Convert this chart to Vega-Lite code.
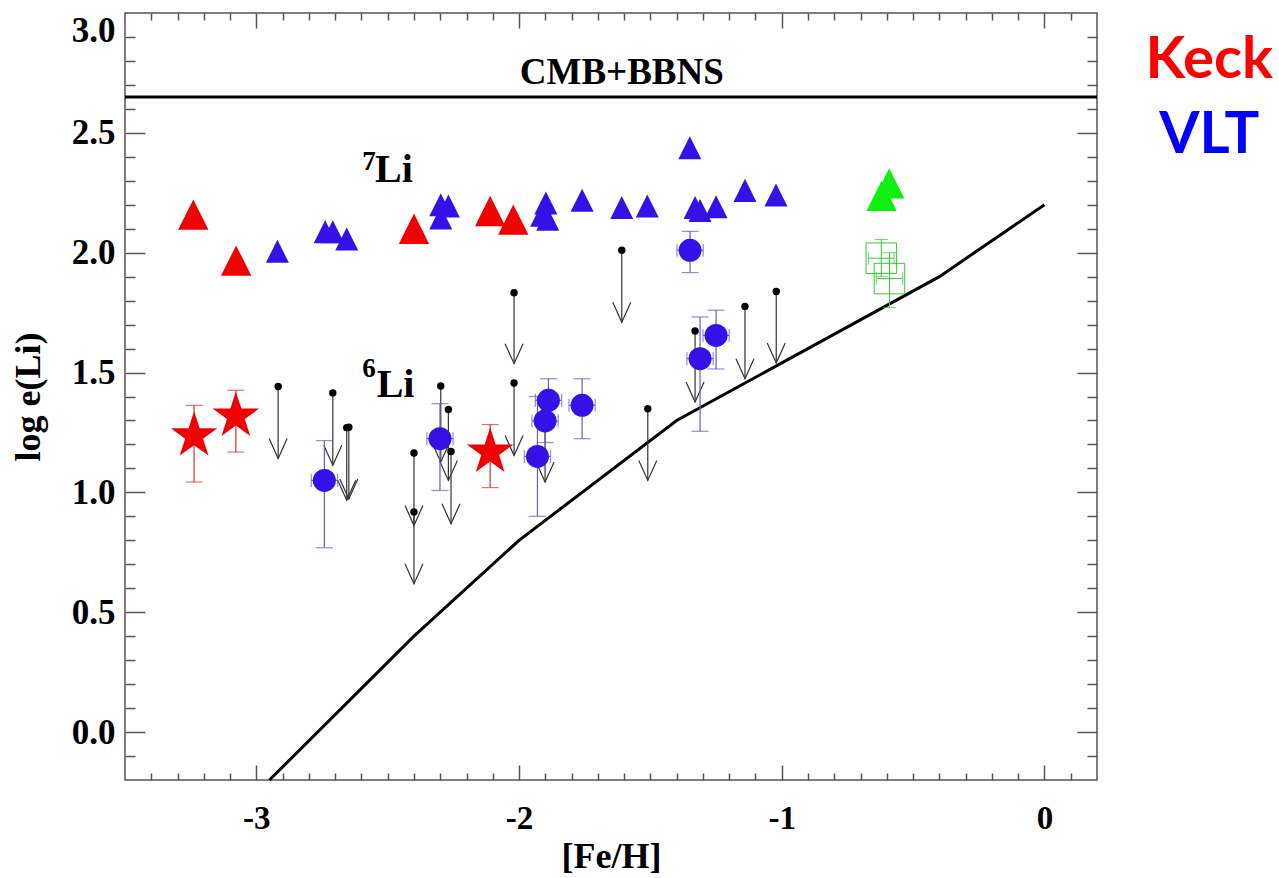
{
  "$schema": "https://vega.github.io/schema/vega-lite/v6.json",
  "width": 972,
  "height": 767,
  "autosize": "none",
  "padding": {"left": 125, "top": 13, "right": 182, "bottom": 98},
  "background": "white",
  "config": {
    "view": {"stroke": "#555555", "strokeWidth": 1.5},
    "axis": {
      "labelFont": "Liberation Serif",
      "labelFontWeight": "bold",
      "labelColor": "black",
      "titleFont": "Liberation Serif",
      "titleFontWeight": "bold",
      "titleColor": "black",
      "grid": false,
      "domain": false
    }
  },
  "datasets": {
    "theory": [
      {"x": -2.95, "y": -0.2},
      {"x": -2.4, "y": 0.4},
      {"x": -2.0, "y": 0.8},
      {"x": -1.4, "y": 1.3},
      {"x": -0.4, "y": 1.9},
      {"x": 0.0, "y": 2.2}
    ],
    "cmb": [{"y": 2.65}],
    "li7": [
      {"x": -3.24, "y": 2.159, "tel": "Keck"},
      {"x": -3.077, "y": 1.967, "tel": "Keck"},
      {"x": -2.40, "y": 2.100, "tel": "Keck"},
      {"x": -2.110, "y": 2.174, "tel": "Keck"},
      {"x": -2.022, "y": 2.138, "tel": "Keck"},
      {"x": -2.92, "y": 2.006, "tel": "VLT"},
      {"x": -2.738, "y": 2.087, "tel": "VLT"},
      {"x": -2.709, "y": 2.087, "tel": "VLT"},
      {"x": -2.656, "y": 2.057, "tel": "VLT"},
      {"x": -2.298, "y": 2.200, "tel": "VLT"},
      {"x": -2.269, "y": 2.195, "tel": "VLT"},
      {"x": -2.298, "y": 2.145, "tel": "VLT"},
      {"x": -1.898, "y": 2.207, "tel": "VLT"},
      {"x": -1.914, "y": 2.156, "tel": "VLT"},
      {"x": -1.891, "y": 2.140, "tel": "VLT"},
      {"x": -1.760, "y": 2.219, "tel": "VLT"},
      {"x": -1.609, "y": 2.189, "tel": "VLT"},
      {"x": -1.512, "y": 2.195, "tel": "VLT"},
      {"x": -1.350, "y": 2.438, "tel": "VLT"},
      {"x": -1.330, "y": 2.189, "tel": "VLT"},
      {"x": -1.311, "y": 2.176, "tel": "VLT"},
      {"x": -1.250, "y": 2.192, "tel": "VLT"},
      {"x": -1.140, "y": 2.260, "tel": "VLT"},
      {"x": -1.022, "y": 2.241, "tel": "VLT"},
      {"x": -0.620, "y": 2.237, "tel": "other"},
      {"x": -0.591, "y": 2.289, "tel": "other"}
    ],
    "stars": [
      {"x": -3.237, "y": 1.236, "lo": 1.043, "hi": 1.363},
      {"x": -3.078, "y": 1.318, "lo": 1.168, "hi": 1.426},
      {"x": -2.110, "y": 1.168, "lo": 1.020, "hi": 1.283}
    ],
    "circles": [
      {"x": -2.741, "y": 1.050, "lo": 0.769, "hi": 1.216, "xlo": -2.791, "xhi": -2.691},
      {"x": -2.301, "y": 1.224, "lo": 1.008, "hi": 1.370, "xlo": -2.351, "xhi": -2.251},
      {"x": -1.930, "y": 1.150, "lo": 0.900, "hi": 1.400, "xlo": -1.980, "xhi": -1.880},
      {"x": -1.901, "y": 1.298, "lo": 1.208, "hi": 1.388, "xlo": -1.951, "xhi": -1.851},
      {"x": -1.888, "y": 1.384, "lo": 1.294, "hi": 1.474, "xlo": -1.938, "xhi": -1.838},
      {"x": -1.760, "y": 1.363, "lo": 1.224, "hi": 1.474, "xlo": -1.810, "xhi": -1.710},
      {"x": -1.311, "y": 1.558, "lo": 1.255, "hi": 1.732, "xlo": -1.361, "xhi": -1.261},
      {"x": -1.250, "y": 1.655, "lo": 1.515, "hi": 1.760, "xlo": -1.300, "xhi": -1.200},
      {"x": -1.349, "y": 2.010, "lo": 1.917, "hi": 2.089, "xlo": -1.399, "xhi": -1.299}
    ],
    "squares": [
      {"x": -0.621, "y": 1.977, "lo": 1.900, "hi": 2.055, "xlo": -0.670, "xhi": -0.572},
      {"x": -0.590, "y": 1.892, "lo": 1.771, "hi": 2.000, "xlo": -0.640, "xhi": -0.540}
    ],
    "limits": [
      {"x": -2.917, "y": 1.442, "tip": 1.141},
      {"x": -2.709, "y": 1.415, "tip": 1.113},
      {"x": -2.656, "y": 1.270, "tip": 0.967},
      {"x": -2.648, "y": 1.272, "tip": 0.972},
      {"x": -2.400, "y": 1.164, "tip": 0.862},
      {"x": -2.400, "y": 0.918, "tip": 0.619},
      {"x": -2.298, "y": 1.444, "tip": 1.127},
      {"x": -2.269, "y": 1.346, "tip": 1.050},
      {"x": -2.259, "y": 1.171, "tip": 0.869},
      {"x": -2.019, "y": 1.833, "tip": 1.537},
      {"x": -2.019, "y": 1.456, "tip": 1.154},
      {"x": -1.901, "y": 1.343, "tip": 1.043},
      {"x": -1.609, "y": 2.010, "tip": 1.710},
      {"x": -1.510, "y": 1.349, "tip": 1.050},
      {"x": -1.330, "y": 1.673, "tip": 1.377},
      {"x": -1.140, "y": 1.776, "tip": 1.474},
      {"x": -1.021, "y": 1.838, "tip": 1.540}
    ],
    "bigLi": [
      {"x": -2.548, "y": 2.295, "t": "Li"},
      {"x": -2.542, "y": 1.396, "t": "Li"}
    ],
    "sup": [
      {"x": -2.597, "y": 2.344, "t": "7"},
      {"x": -2.597, "y": 1.481, "t": "6"}
    ],
    "cmbtext": [{"x": -1.609, "y": 2.702, "t": "CMB+BBNS"}],
    "tels": [
      {"x": 0.627, "y": 2.728, "t": "Keck"},
      {"x": 0.627, "y": 2.415, "t": "VLT"}
    ]
  },
  "resolve": {"axis": {"x": "independent", "y": "independent"}},
  "layer": [
    {
      "data": {"name": "theory"},
      "mark": {"type": "line", "color": "black", "strokeWidth": 3},
      "encoding": {
        "x": {"field": "x", "type": "quantitative", "scale": {"domain": [-3.5, 0.2], "nice": false, "zero": false},
          "axis": {"orient": "bottom", "values": [-3, -2, -1, 0], "ticks": false, "labels": true, "labelExpr": "'' + datum.value", "labelPadding": 22, "labelFontSize": 33, "labelFlush": false, "title": "[Fe/H]", "titleFontSize": 36, "titlePadding": 4}},
        "y": {"field": "y", "type": "quantitative", "scale": {"domain": [-0.2, 3.0], "nice": false, "zero": false},
          "axis": {"orient": "left", "values": [0, 0.5, 1, 1.5, 2, 2.5, 3], "ticks": false, "labels": true, "format": ".1f", "labelPadding": 10, "labelFontSize": 35, "labelFlush": true, "title": "log e(Li)", "titleFontSize": 36, "titlePadding": 24}}
      }
    },
    {
      "data": {"name": "cmb"},
      "mark": {"type": "rule", "color": "black", "strokeWidth": 3},
      "encoding": {
        "y": {"field": "y", "type": "quantitative", "scale": {"domain": [-0.2, 3.0], "nice": false, "zero": false}, "axis": null}
      }
    },
    {
      "data": {"name": "limits"},
      "mark": {"type": "rule", "color": "#333333", "strokeWidth": 1.2},
      "encoding": {
        "x": {"field": "x", "type": "quantitative", "scale": {"domain": [-3.5, 0.2], "nice": false, "zero": false},
          "axis": {"orient": "bottom", "values": [-3, -2, -1, 0], "tickSize": -15, "tickColor": "#555555", "tickWidth": 1.5, "labels": false, "title": null}},
        "y": {"field": "y", "type": "quantitative", "scale": {"domain": [-0.2, 3.0], "nice": false, "zero": false},
          "axis": {"orient": "left", "values": [0, 0.5, 1, 1.5, 2, 2.5], "tickSize": -20, "tickColor": "#555555", "tickWidth": 1.5, "labels": false, "title": null}},
        "y2": {"field": "tip"}
      }
    },
    {
      "data": {"name": "limits"},
      "mark": {"type": "point", "shape": "M-1.8,-4L0,0L1.8,-4", "size": 100, "filled": false, "stroke": "#333333", "strokeWidth": 1.2, "opacity": 1},
      "encoding": {
        "x": {"field": "x", "type": "quantitative", "scale": {"domain": [-3.5, 0.2], "nice": false, "zero": false},
          "axis": {"orient": "bottom", "values": [-3.4, -3.3, -3.2, -3.1, -2.9, -2.8, -2.7, -2.6, -2.5, -2.4, -2.3, -2.2, -2.1, -1.9, -1.8, -1.7, -1.6, -1.5, -1.4, -1.3, -1.2, -1.1, -0.9, -0.8, -0.7, -0.6, -0.5, -0.4, -0.3, -0.2, -0.1, 0.1], "tickSize": -7, "tickColor": "#555555", "tickWidth": 1.5, "labels": false, "title": null}},
        "y": {"field": "tip", "type": "quantitative", "scale": {"domain": [-0.2, 3.0], "nice": false, "zero": false},
          "axis": {"orient": "left", "values": [-0.1, 0.1, 0.2, 0.3, 0.4, 0.6, 0.7, 0.8, 0.9, 1.1, 1.2, 1.3, 1.4, 1.6, 1.7, 1.8, 1.9, 2.1, 2.2, 2.3, 2.4, 2.6, 2.7, 2.8, 2.9], "tickSize": -10, "tickColor": "#555555", "tickWidth": 1.5, "labels": false, "title": null}}
      }
    },
    {
      "data": {"name": "limits"},
      "mark": {"type": "point", "shape": "circle", "size": 55, "filled": true, "color": "black", "opacity": 1},
      "encoding": {
        "x": {"field": "x", "type": "quantitative", "scale": {"domain": [-3.5, 0.2], "nice": false, "zero": false},
          "axis": {"orient": "top", "values": [-3, -2, -1, 0], "tickSize": -15, "tickColor": "#555555", "tickWidth": 1.5, "labels": false, "title": null}},
        "y": {"field": "y", "type": "quantitative", "scale": {"domain": [-0.2, 3.0], "nice": false, "zero": false},
          "axis": {"orient": "right", "values": [0, 0.5, 1, 1.5, 2, 2.5], "tickSize": -20, "tickColor": "#555555", "tickWidth": 1.5, "labels": false, "title": null}}
      }
    },
    {
      "data": {"name": "stars"},
      "mark": {"type": "errorbar", "ticks": true, "size": 17, "thickness": 1.2, "color": "#e03030"},
      "encoding": {
        "x": {"field": "x", "type": "quantitative", "scale": {"domain": [-3.5, 0.2], "nice": false, "zero": false}, "axis": null},
        "y": {"field": "lo", "type": "quantitative", "scale": {"domain": [-0.2, 3.0], "nice": false, "zero": false}, "axis": null},
        "y2": {"field": "hi"}
      }
    },
    {
      "data": {"name": "circles"},
      "mark": {"type": "errorbar", "ticks": true, "size": 17, "thickness": 1.2, "color": "#6a5acd"},
      "encoding": {
        "x": {"field": "x", "type": "quantitative", "scale": {"domain": [-3.5, 0.2], "nice": false, "zero": false}, "axis": null},
        "y": {"field": "lo", "type": "quantitative", "scale": {"domain": [-0.2, 3.0], "nice": false, "zero": false}, "axis": null},
        "y2": {"field": "hi"}
      }
    },
    {
      "data": {"name": "circles"},
      "mark": {"type": "errorbar", "ticks": true, "size": 13, "thickness": 1.2, "color": "#6a5acd"},
      "encoding": {
        "y": {"field": "y", "type": "quantitative", "scale": {"domain": [-0.2, 3.0], "nice": false, "zero": false}, "axis": null},
        "x": {"field": "xlo", "type": "quantitative", "scale": {"domain": [-3.5, 0.2], "nice": false, "zero": false}, "axis": null},
        "x2": {"field": "xhi"}
      }
    },
    {
      "data": {"name": "squares"},
      "mark": {"type": "errorbar", "ticks": true, "size": 13, "thickness": 1, "color": "#33cc33"},
      "encoding": {
        "x": {"field": "x", "type": "quantitative", "scale": {"domain": [-3.5, 0.2], "nice": false, "zero": false}, "axis": null},
        "y": {"field": "lo", "type": "quantitative", "scale": {"domain": [-0.2, 3.0], "nice": false, "zero": false}, "axis": null},
        "y2": {"field": "hi"}
      }
    },
    {
      "data": {"name": "squares"},
      "mark": {"type": "errorbar", "ticks": true, "size": 13, "thickness": 1, "color": "#33cc33"},
      "encoding": {
        "y": {"field": "y", "type": "quantitative", "scale": {"domain": [-0.2, 3.0], "nice": false, "zero": false}, "axis": null},
        "x": {"field": "xlo", "type": "quantitative", "scale": {"domain": [-3.5, 0.2], "nice": false, "zero": false}, "axis": null},
        "x2": {"field": "xhi"}
      }
    },
    {
      "data": {"name": "stars"},
      "mark": {"type": "point", "shape": "M0,-1L0.2245,-0.309L0.9511,-0.309L0.3633,0.118L0.5878,0.809L0,0.382L-0.5878,0.809L-0.3633,0.118L-0.9511,-0.309L-0.2245,-0.309Z", "size": 2400, "filled": true, "color": "#f00000", "opacity": 1},
      "encoding": {
        "x": {"field": "x", "type": "quantitative", "scale": {"domain": [-3.5, 0.2], "nice": false, "zero": false},
          "axis": {"orient": "top", "values": [-3.4, -3.3, -3.2, -3.1, -2.9, -2.8, -2.7, -2.6, -2.5, -2.4, -2.3, -2.2, -2.1, -1.9, -1.8, -1.7, -1.6, -1.5, -1.4, -1.3, -1.2, -1.1, -0.9, -0.8, -0.7, -0.6, -0.5, -0.4, -0.3, -0.2, -0.1, 0.1], "tickSize": -7, "tickColor": "#555555", "tickWidth": 1.5, "labels": false, "title": null}},
        "y": {"field": "y", "type": "quantitative", "scale": {"domain": [-0.2, 3.0], "nice": false, "zero": false},
          "axis": {"orient": "right", "values": [-0.1, 0.1, 0.2, 0.3, 0.4, 0.6, 0.7, 0.8, 0.9, 1.1, 1.2, 1.3, 1.4, 1.6, 1.7, 1.8, 1.9, 2.1, 2.2, 2.3, 2.4, 2.6, 2.7, 2.8, 2.9], "tickSize": -10, "tickColor": "#555555", "tickWidth": 1.5, "labels": false, "title": null}}
      }
    },
    {
      "data": {"name": "circles"},
      "mark": {"type": "point", "shape": "circle", "size": 529, "filled": true, "color": "#3510e8", "opacity": 1},
      "encoding": {
        "x": {"field": "x", "type": "quantitative", "scale": {"domain": [-3.5, 0.2], "nice": false, "zero": false}, "axis": null},
        "y": {"field": "y", "type": "quantitative", "scale": {"domain": [-0.2, 3.0], "nice": false, "zero": false}, "axis": null}
      }
    },
    {
      "data": {"name": "squares"},
      "mark": {"type": "point", "shape": "square", "size": 930, "filled": false, "color": "#33cc33", "strokeWidth": 1, "opacity": 1},
      "encoding": {
        "x": {"field": "x", "type": "quantitative", "scale": {"domain": [-3.5, 0.2], "nice": false, "zero": false}, "axis": null},
        "y": {"field": "y", "type": "quantitative", "scale": {"domain": [-0.2, 3.0], "nice": false, "zero": false}, "axis": null}
      }
    },
    {
      "data": {"name": "li7"},
      "mark": {"type": "point", "shape": "M0,-1L1,1L-1,1Z", "filled": true, "opacity": 1},
      "encoding": {
        "x": {"field": "x", "type": "quantitative", "scale": {"domain": [-3.5, 0.2], "nice": false, "zero": false}, "axis": null},
        "y": {"field": "y", "type": "quantitative", "scale": {"domain": [-0.2, 3.0], "nice": false, "zero": false}, "axis": null},
        "color": {"condition": [{"test": "datum.tel === 'Keck'", "value": "#f00000"}, {"test": "datum.tel === 'VLT'", "value": "#3510e8"}], "value": "#11ee11"},
        "size": {"condition": {"test": "datum.tel === 'VLT'", "value": 530}, "value": 920}
      }
    },
    {
      "data": {"name": "bigLi"},
      "mark": {"type": "text", "font": "Liberation Serif", "fontWeight": "bold", "fontSize": 40, "align": "left", "baseline": "alphabetic", "color": "black"},
      "encoding": {
        "x": {"field": "x", "type": "quantitative", "scale": {"domain": [-3.5, 0.2], "nice": false, "zero": false}, "axis": null},
        "y": {"field": "y", "type": "quantitative", "scale": {"domain": [-0.2, 3.0], "nice": false, "zero": false}, "axis": null},
        "text": {"field": "t"}
      }
    },
    {
      "data": {"name": "sup"},
      "mark": {"type": "text", "font": "Liberation Serif", "fontWeight": "bold", "fontSize": 27, "align": "left", "baseline": "alphabetic", "color": "black"},
      "encoding": {
        "x": {"field": "x", "type": "quantitative", "scale": {"domain": [-3.5, 0.2], "nice": false, "zero": false}, "axis": null},
        "y": {"field": "y", "type": "quantitative", "scale": {"domain": [-0.2, 3.0], "nice": false, "zero": false}, "axis": null},
        "text": {"field": "t"}
      }
    },
    {
      "data": {"name": "cmbtext"},
      "mark": {"type": "text", "font": "Liberation Serif", "fontWeight": "bold", "fontSize": 37, "align": "center", "baseline": "alphabetic", "color": "black"},
      "encoding": {
        "x": {"field": "x", "type": "quantitative", "scale": {"domain": [-3.5, 0.2], "nice": false, "zero": false}, "axis": null},
        "y": {"field": "y", "type": "quantitative", "scale": {"domain": [-0.2, 3.0], "nice": false, "zero": false}, "axis": null},
        "text": {"field": "t"}
      }
    },
    {
      "data": {"name": "tels"},
      "mark": {"type": "text", "font": "Lato", "fontWeight": "bold", "fontSize": 58, "align": "center", "baseline": "alphabetic"},
      "encoding": {
        "x": {"field": "x", "type": "quantitative", "scale": {"domain": [-3.5, 0.2], "nice": false, "zero": false}, "axis": null},
        "y": {"field": "y", "type": "quantitative", "scale": {"domain": [-0.2, 3.0], "nice": false, "zero": false}, "axis": null},
        "text": {"field": "t"},
        "color": {"condition": {"test": "datum.t === 'Keck'", "value": "#ff0000"}, "value": "#0000ff"}
      }
    }
  ]
}
